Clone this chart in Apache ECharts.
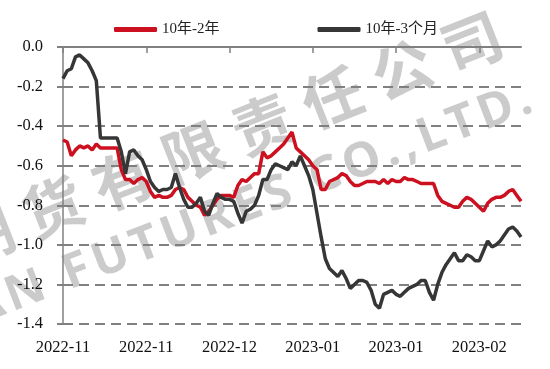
<!DOCTYPE html>
<html>
<head>
<meta charset="utf-8">
<script src="https://cdn.jsdelivr.net/npm/echarts@6/dist/echarts.min.js"></script>
<style>
html,body{margin:0;padding:0;background:#fff;}
#chart{width:550px;height:369px;}
</style>
</head>
<body>
<div id="chart"></div>
<script>
// ---- data ----
var startDate = '2022-11-03';
var dayCount = 111;
var seriesNames = ['10年-2年', '10年-3个月'];
var spread10y2y = [
 -0.47,-0.48,-0.55,-0.52,-0.50,-0.51,-0.50,-0.52,-0.49,-0.51,
 -0.51,-0.51,-0.51,-0.51,-0.62,-0.67,-0.67,-0.69,-0.67,-0.66,
 -0.68,-0.73,-0.76,-0.75,-0.76,-0.76,-0.75,-0.72,-0.71,-0.72,
 -0.76,-0.78,-0.80,-0.81,-0.85,-0.83,-0.80,-0.77,-0.75,-0.75,
 -0.75,-0.76,-0.70,-0.67,-0.68,-0.66,-0.64,-0.64,-0.53,-0.56,
 -0.55,-0.53,-0.51,-0.49,-0.46,-0.43,-0.51,-0.53,-0.55,-0.57,
 -0.60,-0.62,-0.72,-0.72,-0.68,-0.67,-0.66,-0.64,-0.65,-0.68,
 -0.70,-0.70,-0.69,-0.68,-0.68,-0.68,-0.69,-0.67,-0.69,-0.67,
 -0.68,-0.68,-0.66,-0.67,-0.67,-0.68,-0.69,-0.69,-0.69,-0.69,
 -0.75,-0.78,-0.79,-0.80,-0.81,-0.81,-0.78,-0.76,-0.77,-0.79,
 -0.81,-0.83,-0.79,-0.77,-0.76,-0.76,-0.75,-0.73,-0.72,-0.75,
 -0.78
];
var spread10y3m = [
 -0.16,-0.12,-0.11,-0.05,-0.04,-0.06,-0.08,-0.12,-0.17,-0.46,
 -0.46,-0.46,-0.46,-0.46,-0.53,-0.64,-0.53,-0.52,-0.55,-0.57,
 -0.62,-0.68,-0.71,-0.73,-0.72,-0.72,-0.71,-0.64,-0.71,-0.77,
 -0.81,-0.81,-0.79,-0.76,-0.83,-0.85,-0.79,-0.74,-0.76,-0.77,
 -0.77,-0.78,-0.84,-0.89,-0.83,-0.82,-0.80,-0.75,-0.67,-0.67,
 -0.62,-0.59,-0.60,-0.61,-0.62,-0.58,-0.60,-0.55,-0.60,-0.65,
 -0.72,-0.84,-0.96,-1.07,-1.12,-1.14,-1.16,-1.13,-1.17,-1.22,
 -1.20,-1.18,-1.18,-1.19,-1.23,-1.30,-1.32,-1.25,-1.24,-1.23,
 -1.25,-1.26,-1.24,-1.22,-1.21,-1.20,-1.18,-1.18,-1.24,-1.28,
 -1.20,-1.14,-1.10,-1.07,-1.04,-1.08,-1.08,-1.05,-1.06,-1.08,
 -1.08,-1.03,-0.98,-1.01,-1.00,-0.98,-0.95,-0.92,-0.91,-0.93,
 -0.96
];
var yMin = -1.4, yMax = 0, yStep = 0.2;
var labelEvery = 20;
var watermarkCn = '华安期货有限责任公司';
var watermarkEn = 'HUAAN FUTURES CO.,LTD.';

// ---- categories (daily dates) ----
var categories = [];
(function(){
  var d = new Date(startDate + 'T00:00:00Z');
  for (var i = 0; i < dayCount; i++) {
    var t = new Date(d.getTime() + i * 86400000);
    var m = t.getUTCMonth() + 1, dd = t.getUTCDate();
    categories.push(t.getUTCFullYear() + '-' + (m < 10 ? '0' : '') + m + '-' + (dd < 10 ? '0' : '') + dd);
  }
})();

var serif = "'Liberation Serif','Times New Roman','Noto Sans CJK SC',serif";
var gridColor = '#808080';
var wmFill = 'rgba(140,140,140,0.45)';

// ---- watermark (decoration) ----
var wm = [];
(function(){
  var ang = 21.5 * Math.PI / 180, ux = Math.cos(ang), uy = -Math.sin(ang);
  var chars = watermarkCn.split('');
  var ax = 53, ay = 207, anchor = 3, adv = 75;
  for (var i = 0; i < chars.length; i++) {
    var k = i - anchor;
    wm.push({
      type: 'text', x: ax + k * adv * ux, y: ay + k * adv * uy,
      rotation: ang, z: -10, silent: true,
      style: { text: chars[i], fill: wmFill, font: 'bold 60px "Noto Sans CJK SC"', align: 'center', verticalAlign: 'middle' }
    });
  }
  var ang2 = 21 * Math.PI / 180, vx = Math.cos(ang2), vy = -Math.sin(ang2);
  var font2 = 'bold 48px "Noto Sans"';
  var ctx = document.createElement('canvas').getContext('2d');
  ctx.font = font2;
  var en = watermarkEn.split('');
  var w = en.map(function(c){ return ctx.measureText(c).width; });
  var fIdx = en.indexOf('F'), dIdx = en.lastIndexOf('D');
  var base = w[fIdx] / 2 + w[dIdx] / 2;
  for (var j = fIdx + 1; j < dIdx; j++) base += w[j];
  var sp = (449 - base) / (dIdx - fIdx);
  var pos = [], acc = 0;
  for (var j = 0; j < en.length; j++) { pos.push(acc + w[j] / 2); acc += w[j] + sp; }
  var off = pos[fIdx];
  var fx = 77, fy = 272;
  for (var j = 0; j < en.length; j++) {
    if (en[j] === ' ') continue;
    var dd = pos[j] - off;
    wm.push({
      type: 'text', x: fx + dd * vx, y: fy + dd * vy,
      rotation: ang2, z: -10, silent: true,
      style: { text: en[j], fill: wmFill, font: font2, align: 'center', verticalAlign: 'middle' }
    });
  }
})();

var chart = echarts.init(document.getElementById('chart'), null, {renderer: 'canvas'});
chart.setOption({
  animation: false,
  backgroundColor: '#fff',
  graphic: wm,
  legend: {
    left: 109, top: 17,
    itemWidth: 43, itemHeight: 5, itemGap: 98,
    icon: 'roundRect',
    textStyle: { fontFamily: serif, fontSize: 15, color: '#222' },
    data: seriesNames
  },
  grid: { left: 63, right: 29, top: 47, bottom: 45 },
  xAxis: [{
    type: 'category', data: categories, boundaryGap: false, position: 'bottom',
    axisLine: { show: false }, axisTick: { show: false },
    axisLabel: {
      interval: labelEvery - 1, margin: 15, fontFamily: serif, fontSize: 16.5, color: '#111',
      formatter: function (v) { return v.substring(0, 7); }
    },
    splitLine: { show: false }
  }, {
    type: 'category', data: categories, boundaryGap: false, position: 'top',
    axisLine: { show: true, onZero: false, lineStyle: { color: gridColor, width: 2 } },
    axisTick: { show: true, inside: true, length: 6, interval: labelEvery - 1, lineStyle: { color: gridColor, width: 1.5 } },
    axisLabel: { show: false },
    splitLine: { show: false }
  }],
  yAxis: {
    type: 'value', min: yMin, max: yMax, interval: yStep,
    axisLine: { show: true, onZero: false, lineStyle: { color: gridColor, width: 1.5 } },
    axisTick: { show: true, length: 6, lineStyle: { color: gridColor, width: 2 } },
    axisLabel: { margin: 20, fontFamily: serif, fontSize: 16.5, color: '#111',
      formatter: function (v) { return v.toFixed(1); } },
    splitLine: { show: true, lineStyle: { color: gridColor, width: 2, type: [10, 6] } }
  },
  series: [{
    name: seriesNames[0], type: 'line', data: spread10y2y, xAxisIndex: 0,
    showSymbol: false, symbol: 'none', color: '#cc1020',
    lineStyle: { width: 3.5, color: '#cc1020' }, z: 3
  }, {
    name: seriesNames[1], type: 'line', data: spread10y3m, xAxisIndex: 0,
    showSymbol: false, symbol: 'none', color: '#363636',
    lineStyle: { width: 3.5, color: '#363636' }, z: 4
  }]
});
</script>
</body>
</html>
